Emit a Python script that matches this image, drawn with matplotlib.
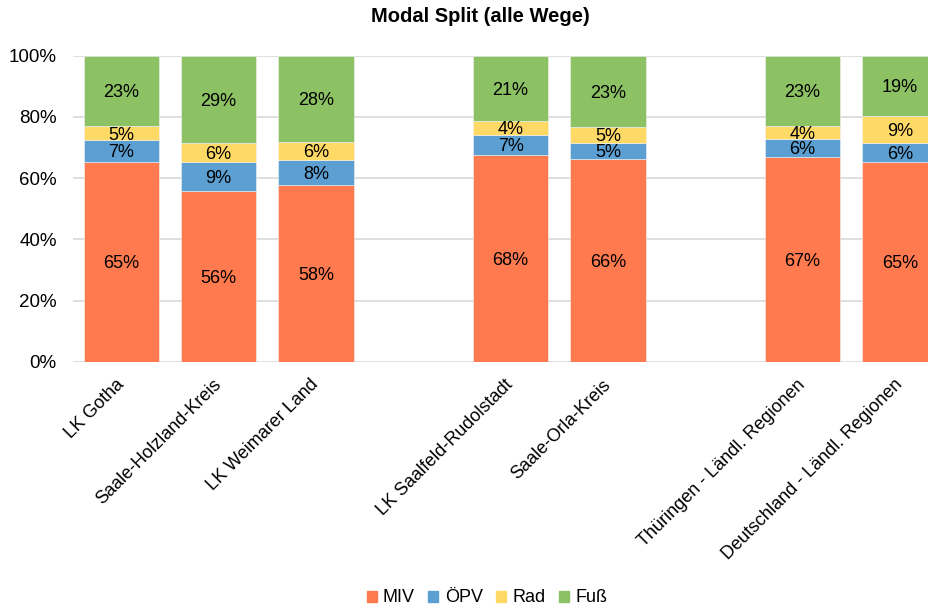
import numpy as np
import matplotlib.pyplot as plt
from matplotlib.patches import Patch

plt.rcParams['font.family'] = ['Liberation Sans', 'DejaVu Sans']

# data (shares in %), empty slots separate the groups
regions = ['LK Gotha', 'Saale-Holzland-Kreis', 'LK Weimarer Land',
           'LK Saalfeld-Rudolstadt', 'Saale-Orla-Kreis',
           'Thüringen - Ländl. Regionen', 'Deutschland - Ländl. Regionen']
slots = [0, 1, 2, 4, 5, 7, 8]
modes = ['MIV', 'ÖPV', 'Rad', 'Fuß']
miv = [65.4, 55.9, 57.6, 67.6, 66.4, 66.9, 65.4]
oepv = [7.0, 9.4, 8.4, 6.6, 5.2, 5.9, 6.0]
rad = [4.6, 6.1, 5.8, 4.4, 5.0, 4.2, 9.0]
fuss = [23.0, 28.6, 28.2, 21.4, 23.4, 23.0, 19.4]
colors = ['#FF7A4E', '#5B9FD3', '#FFD966', '#8CC164']

fig = plt.figure(figsize=(9.29, 6.10), dpi=100)
ax = fig.add_axes([72.7/929, 1-361.7/610, (929-72.7)/929, 306/610])

bottom = np.zeros(len(slots))
for name, vals, c in zip(modes, [miv, oepv, rad, fuss], colors):
    vals = np.asarray(vals)
    ax.bar(slots, vals/100, 0.777, bottom=bottom/100, color=c,
           edgecolor='#f2f2f2', linewidth=0.4, zorder=2)
    for x, b, v in zip(slots, bottom, vals):
        ax.text(x, (b + v/2)/100, '%d%%' % round(v), ha='center',
                va='center_baseline', fontsize=13, color='black', zorder=3)
    bottom += vals

ax.set_xlim(-0.5, 8.3)
ax.set_ylim(0, 1)
ax.set_yticks(np.arange(0, 1.01, 0.2))
ax.set_yticklabels(['%d%%' % v for v in range(0, 101, 20)], fontsize=13.5)
ax.yaxis.grid(True, color='#d9d9d9', linewidth=1.2, zorder=0)
ax.set_axisbelow(True)
ax.tick_params(axis='y', length=0, pad=11.5)
ax.tick_params(axis='x', length=0, pad=6)
ax.set_xticks(slots)
ax.set_xticklabels(regions, fontsize=13, rotation=45, ha='right',
                   rotation_mode='anchor', va='center')
for lbl in ax.get_xticklabels():
    lbl.set_y(-0.04)
for key in ['left', 'right', 'top', 'bottom']:
    ax.spines[key].set_visible(False)

fig.text(480/929, 1-17/610, 'Modal Split (alle Wege)', ha='center', va='center',
         fontsize=14.5, fontweight='bold')

handles = [Patch(color=c, label=m) for m, c in zip(modes, colors)]
fig.legend(handles=handles, loc='center', bbox_to_anchor=(487/929, 1-598/610),
           ncol=4, frameon=False, fontsize=13, handlelength=0.55, handleheight=0.55,
           handletextpad=0.35, columnspacing=0.75)

plt.savefig('out.png', dpi=100)
